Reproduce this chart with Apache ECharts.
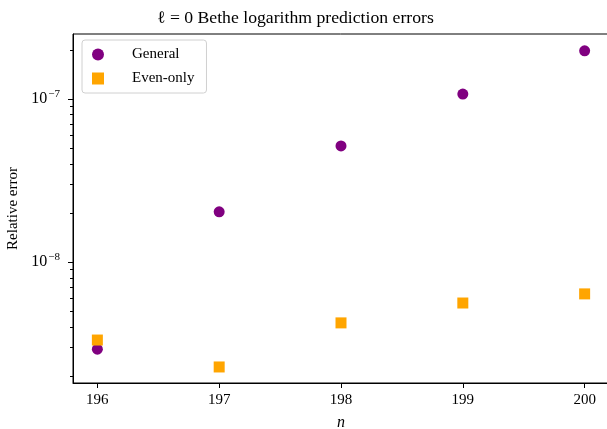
<!DOCTYPE html>
<html><head><meta charset="utf-8">
<script src="https://cdn.jsdelivr.net/npm/echarts@6/dist/echarts.min.js"></script>
<style>html,body{margin:0;padding:0;background:#fff}#c{width:607px;height:429px}</style>
</head><body><div id="c"></div>
<script>
const nValues = [196, 197, 198, 199, 200];
const generalErr = [2.92e-9, 2.03e-8, 5.15e-8, 1.07e-7, 1.97e-7];
const evenOnlyErr = [3.32e-9, 2.27e-9, 4.23e-9, 5.6e-9, 6.37e-9];
const xTicks = [196, 197, 198, 199, 200];
const yMajorTicks = [1e-8, 1e-7];
const yMinorTicks = [2e-9,3e-9,4e-9,5e-9,6e-9,7e-9,8e-9,9e-9,2e-8,3e-8,4e-8,5e-8,6e-8,7e-8,8e-8,9e-8,2e-7];

const FONT = 'Liberation Serif';
const chart = echarts.init(document.getElementById('c'));
const yMin = 1.81e-9, yMax = 2.5e-7;
chart.setOption({
  animation: false,
  title: {
    text: 'ℓ = 0 Bethe logarithm prediction errors',
    left: 152, top: 4,
    textStyle: {fontFamily: FONT, fontSize: 17.7, fontWeight: 'normal', color: '#000'}
  },
  legend: {
    orient: 'vertical', left: 82, top: 40,
    borderColor: '#d0d0d0', borderWidth: 1, borderRadius: 3,
    padding: [7, 12, 7, 10], itemGap: 9, itemWidth: 12, itemHeight: 12,
    textStyle: {fontFamily: FONT, fontSize: 15, color: '#000', padding: [0,0,0,23]},
    data: [{name: 'General', icon: 'circle'}, {name: 'Even-only', icon: 'rect'}]
  },
  grid: {left: 73, right: -2, top: 34, bottom: 46, show: true, borderColor: '#000', borderWidth: 1,
         backgroundColor: 'transparent', containLabel: false, outerBoundsMode: 'none'},
  xAxis: {
    type: 'value', min: 195.8, max: 200.2,
    name: 'n', nameLocation: 'middle', nameGap: 32,
    nameTextStyle: {fontFamily: FONT, fontSize: 16, fontStyle: 'italic', color: '#000'},
    axisLine: {show: true, lineStyle: {color: '#000', width: 1}},
    axisTick: {show: true, inside: false, length: 5, lineStyle: {color: '#000'}, customValues: xTicks},
    axisLabel: {fontFamily: FONT, fontSize: 15, color: '#000', margin: 10, customValues: xTicks},
    splitLine: {show: false}
  },
  yAxis: [{
    type: 'log', min: yMin, max: yMax,
    name: 'Relative error', nameLocation: 'middle', nameGap: 47, nameRotate: 90,
    nameTextStyle: {fontFamily: FONT, fontSize: 15, color: '#000'},
    axisLine: {show: true, lineStyle: {color: '#000', width: 1}},
    axisTick: {show: true, length: 5, lineStyle: {color: '#000'}, customValues: yMajorTicks},
    axisLabel: {
      customValues: yMajorTicks, margin: 13,
      formatter: v => '{b|10}{s|−' + Math.round(-Math.log10(v)) + '}',
      rich: {
        b: {fontFamily: FONT, fontSize: 16, color: '#000'},
        s: {fontFamily: FONT, fontSize: 11, color: '#000', verticalAlign: 'top', padding: [0,0,10,1]}
      }
    },
    splitLine: {show: false}
  }, {
    type: 'log', min: yMin, max: yMax, position: 'left',
    axisLine: {show: false},
    axisTick: {show: true, length: 3, lineStyle: {color: '#000'}, customValues: yMinorTicks},
    axisLabel: {show: false},
    splitLine: {show: false}
  }],
  series: [{
    name: 'General', type: 'scatter', symbol: 'circle', symbolSize: 11,
    itemStyle: {color: '#800080', opacity: 1},
    data: nValues.map((n, i) => [n, generalErr[i]])
  }, {
    name: 'Even-only', type: 'scatter', symbol: 'rect', symbolSize: 11,
    itemStyle: {color: '#FFA500', opacity: 1},
    data: nValues.map((n, i) => [n, evenOnlyErr[i]])
  }]
});
</script></body></html>
